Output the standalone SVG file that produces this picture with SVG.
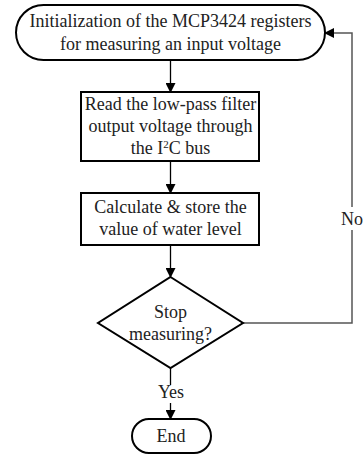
<svg xmlns="http://www.w3.org/2000/svg" width="363" height="454" viewBox="0 0 363 454">
<style>
.shape{fill:#fff;stroke:#000;stroke-width:2}
.t{font-family:'Liberation Serif','Times New Roman',serif;font-size:18px;fill:#222;text-anchor:middle}
.c{fill:none;stroke:#000;stroke-width:1.3}
.g{fill:none;stroke:#555;stroke-width:1.5}
</style>
<defs>
<marker id="ah" markerWidth="10" markerHeight="10" refX="9" refY="5" orient="auto" markerUnits="userSpaceOnUse">
<path d="M0,0 L10,5 L0,10 Z" fill="#000"/>
</marker>
</defs>
<g id="connectors">
<line class="c" x1="170.5" y1="60" x2="170.5" y2="92" marker-end="url(#ah)"/>
<line class="c" x1="170.5" y1="161" x2="170.5" y2="193" marker-end="url(#ah)"/>
<line class="c" x1="170.5" y1="245" x2="170.5" y2="277" marker-end="url(#ah)"/>
<line class="c" x1="170.5" y1="368" x2="170.5" y2="385"/>
<line class="c" x1="170.5" y1="403" x2="170.5" y2="419" marker-end="url(#ah)"/>
<polyline class="g" points="243,323 352,323 352,230"/>
<polyline class="g" points="352,207 352,33 325,33" marker-end="url(#ah)"/>
<text class="t" x="352" y="225">No</text>
<text class="t" x="171" y="398">Yes</text>
</g>
<g id="start">
<rect class="shape" x="16" y="5" width="309" height="55" rx="27.5"/>
<text class="t" x="170.5" y="27">Initialization of the MCP3424 registers</text>
<text class="t" x="170.5" y="50">for measuring an input voltage</text>
</g>
<g id="read">
<rect class="shape" x="81" y="92" width="178" height="69"/>
<text class="t" x="170.5" y="110">Read the low-pass filter</text>
<text class="t" x="170.5" y="132">output voltage through</text>
<text class="t" x="170.5" y="154">the I<tspan font-size="11" dy="-6">2</tspan><tspan dy="6">C bus</tspan></text>
</g>
<g id="calc">
<rect class="shape" x="81" y="193" width="178" height="52"/>
<text class="t" x="170.5" y="213">Calculate &amp; store the</text>
<text class="t" x="170.5" y="235">value of water level</text>
</g>
<g id="decision">
<polygon class="shape" points="170.5,277 243,323 170.5,368 98,323"/>
<text class="t" x="170.5" y="318">Stop</text>
<text class="t" x="170.5" y="340">measuring?</text>
</g>
<g id="end">
<rect class="shape" x="132" y="419" width="79" height="34" rx="17"/>
<text class="t" x="171" y="442">End</text>
</g>
</svg>
